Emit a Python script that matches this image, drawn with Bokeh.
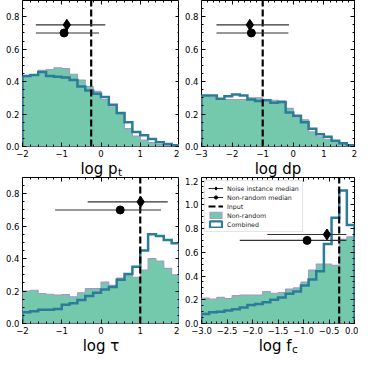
import numpy as np
from bokeh.plotting import figure
from bokeh.models import (FixedTicker, LinearAxis, Range1d, Legend, LegendItem,
                          CustomLabelingPolicy)
from bokeh.layouts import column, row
from bokeh.embed import file_html
from bokeh.resources import INLINE
from bokeh.core.properties import value

FONT = "DejaVu Sans"
TEAL = "#74c9ad"
PURPLE = "#a596c8"
BLUE = "#2b7c99"

# ---------------- data ----------------
# log p_t : 20 bins from -2 to 2
pt_range = (-2.0, 2.0)
pt_nonrandom = [0.43, 0.44, 0.47, 0.475, 0.485, 0.48, 0.445, 0.41, 0.37, 0.34,
                0.29, 0.245, 0.20, 0.11, 0.065, 0.04, 0.025, 0.012, 0.005, 0.002]
pt_combined = [0.435, 0.44, 0.46, 0.435, 0.43, 0.425, 0.41, 0.37, 0.345, 0.325,
               0.305, 0.257, 0.207, 0.15, 0.09, 0.07, 0.046, 0.026, 0.015, 0.007]
pt_input = -0.25
pt_noise = (-0.87, -1.66, 0.11)       # median, low, high
pt_nonrand = (-0.94, -1.66, -0.05)

# log dp : 20 bins from -3 to 2
dp_range = (-3.0, 2.0)
dp_nonrandom = [0.315, 0.305, 0.29, 0.29, 0.29, 0.29, 0.30, 0.30, 0.29, 0.285,
                0.28, 0.235, 0.18, 0.165, 0.09, 0.06, 0.045, 0.03, 0.015, 0.005]
dp_combined = [0.315, 0.315, 0.295, 0.31, 0.32, 0.315, 0.29, 0.28, 0.285, 0.27,
               0.275, 0.21, 0.19, 0.15, 0.11, 0.075, 0.06, 0.035, 0.02, 0.008]
dp_input = -1.0
dp_noise = (-1.42, -2.51, -0.14)
dp_nonrand = (-1.37, -2.51, -0.16)

# log tau : 20 bins from -2 to 2
tau_range = (-2.0, 2.0)
tau_nonrandom = [0.20, 0.205, 0.185, 0.18, 0.175, 0.178, 0.165, 0.19, 0.215, 0.215,
                 0.255, 0.235, 0.28, 0.30, 0.285, 0.33, 0.40, 0.385, 0.34, 0.30]
tau_combined = [0.07, 0.075, 0.085, 0.085, 0.09, 0.115, 0.125, 0.145, 0.17, 0.19,
                0.21, 0.225, 0.27, 0.305, 0.35, 0.45, 0.55, 0.54, 0.515, 0.495]
tau_input = 1.0
tau_noise = (1.01, -0.34, 1.70)
tau_nonrand = (0.49, -1.17, 1.53)

# log f_c : 20 bins from -3 to 0
fc_range = (-3.0, 0.0)
fc_nonrandom = [0.215, 0.205, 0.22, 0.21, 0.235, 0.24, 0.24, 0.24, 0.27, 0.255,
                0.26, 0.29, 0.30, 0.35, 0.45, 0.50, 0.50, 0.49, 0.71, 0.73]
fc_combined = [0.08, 0.095, 0.10, 0.11, 0.12, 0.135, 0.155, 0.165, 0.18, 0.20,
               0.22, 0.25, 0.27, 0.32, 0.37, 0.44, 0.67, 0.89, 1.12, 0.83]
fc_input = -0.30
fc_noise = (-0.54, -1.71, -0.16)
fc_nonrand = (-0.93, -2.25, -0.16)

median_y = (0.75, 0.70)   # noise instance median row, non-random median row

xticks_pt = [-2, -1, 0, 1, 2]
xlabels_pt = ["\u22122", "\u22121", "0", "1", "2"]
xticks_dp = [-3, -2, -1, 0, 1, 2]
xlabels_dp = ["\u22123", "\u22122", "\u22121", "0", "1", "2"]
xticks_fc = [-3.0, -2.5, -2.0, -1.5, -1.0, -0.5, 0.0]
xlabels_fc = ["\u22123.0", "\u22122.5", "\u22122.0", "\u22121.5", "\u22121.0", "\u22120.5", "0.0"]
yticks_a = [0.0, 0.2, 0.4, 0.6, 0.8]
ylabels_a = ["0.0", "0.2", "0.4", "0.6", "0.8"]
yticks_b = [0.0, 0.2, 0.4, 0.6, 0.8, 1.0, 1.2]
ylabels_b = ["0.0", "0.2", "0.4", "0.6", "0.8", "1.0", "1.2"]

W = 179
BL = 22
PANEL_H = 159
LABEL_H = 18


def minor_of(ticks, n, lo, hi):
    ticks = list(ticks)
    step = (ticks[1] - ticks[0]) / n
    vals = np.arange(ticks[0] - 10 * step * n, ticks[-1] + 10 * step * n + 1e-9, step)
    return [float(v) for v in vals if lo - 1e-9 <= v <= hi + 1e-9]


def style_axis(ax, ticks, labels, minor, show_labels):
    ax.ticker = FixedTicker(ticks=list(ticks), minor_ticks=minor)
    ax.major_tick_in = 4
    ax.major_tick_out = 0
    ax.minor_tick_in = 2
    ax.minor_tick_out = 0
    ax.major_tick_line_color = "black"
    ax.minor_tick_line_color = "black"
    ax.axis_line_color = None
    ax.major_label_text_font = FONT
    ax.major_label_text_color = "black"
    if show_labels:
        ax.major_label_overrides = {float(t): l for t, l in zip(ticks, labels)}
        ax.major_label_text_font_size = "8.5px"
        ax.major_label_standoff = 3
    else:
        ax.major_label_policy = CustomLabelingPolicy(
            code="for (const i of indices) { indices.unset(i) }\nreturn indices")
        ax.major_label_text_font_size = "0px"
        ax.major_label_standoff = 0


def panel(xr, nr, cb, inp, noise, nonrand, xt, xl, yt, yl, ymax,
          lab_main, lab_sub, main_w, sub_w, br, legend=False):
    n = len(nr)
    edges = np.linspace(xr[0], xr[1], n + 1)
    xs = np.repeat(edges, 2)
    ys_nr = np.concatenate([[0.0], np.repeat(nr, 2), [0.0]])
    ys_cb = np.concatenate([[0.0], np.repeat(cb, 2), [0.0]])

    p = figure(width=W, height=PANEL_H, x_range=Range1d(*xr), y_range=Range1d(0, ymax),
               output_backend="svg", toolbar_location=None,
               min_border_left=BL, min_border_right=br, min_border_top=0,
               min_border_bottom=0)
    p.grid.visible = False
    p.outline_line_color = "black"
    p.outline_line_width = 1

    r_fill = p.patch(xs, ys_nr, fill_color=TEAL, line_color=PURPLE, line_width=1.1)
    p.line(xs, ys_cb, line_color=BLUE, line_width=2.5, line_join="miter")
    r_inp = p.line([inp, inp], [0, ymax], line_color="black", line_width=2.2,
                   line_dash="7 3")

    seg_n = p.segment(x0=[noise[1]], y0=[median_y[0]], x1=[noise[2]], y1=[median_y[0]],
                      line_color="#333333", line_width=1.1)
    sc_n = p.scatter([noise[0]], [median_y[0]], marker="diamond", size=11,
                     color="black")
    seg_c = p.segment(x0=[nonrand[1]], y0=[median_y[1]], x1=[nonrand[2]], y1=[median_y[1]],
                      line_color="#333333", line_width=1.1)
    sc_c = p.scatter([nonrand[0]], [median_y[1]], marker="circle", size=8,
                     color="black")

    xminor = minor_of(xt, 5, *xr)
    yminor = minor_of(yt, 4, 0, ymax)
    style_axis(p.xaxis[0], xt, xl, xminor, True)
    style_axis(p.yaxis[0], yt, yl, yminor, True)
    top = LinearAxis()
    right = LinearAxis()
    style_axis(top, xt, xl, xminor, False)
    style_axis(right, yt, yl, yminor, False)
    p.add_layout(top, "above")
    p.add_layout(right, "right")

    if legend:
        px_cb = p.patch(xs, ys_cb, fill_color="white", line_color=BLUE, line_width=2.2,
                        visible=False)
        lg = Legend(items=[
            LegendItem(label="Noise instance median", renderers=[seg_n, sc_n]),
            LegendItem(label="Non-random median", renderers=[seg_c, sc_c]),
            LegendItem(label="Input", renderers=[r_inp]),
            LegendItem(label="Non-random", renderers=[r_fill]),
            LegendItem(label="Combined", renderers=[px_cb]),
        ], location="top_left")
        lg.label_text_font = FONT
        lg.label_text_font_size = "6.3px"
        lg.label_text_color = "#222222"
        lg.glyph_width = 15
        lg.glyph_height = 8
        lg.label_height = 8
        lg.spacing = 1
        lg.padding = 3
        lg.margin = 3
        lg.label_standoff = 4
        lg.border_line_color = "#cccccc"
        lg.border_line_width = 1
        lg.background_fill_alpha = 0.8
        lg.inactive_fill_alpha = 0
        p.add_layout(lg)

    # x-axis title (with subscript) in a strip below the panel
    t = figure(width=W, height=LABEL_H, x_range=p.x_range, y_range=Range1d(0, LABEL_H),
               output_backend="svg", toolbar_location=None,
               x_axis_type=None, y_axis_type=None,
               min_border_left=BL, min_border_right=br, min_border_top=0,
               min_border_bottom=0)
    t.grid.visible = False
    t.outline_line_color = None
    cx = (xr[0] + xr[1]) / 2
    base = LABEL_H - 9
    if lab_sub:
        a = (main_w - sub_w) / 2
        t.text(x=[cx], y=[base], text=[lab_main], x_offset=a,
               text_align="right", text_baseline="alphabetic",
               text_font=value(FONT), text_font_size=value("15px"), text_color="black")
        t.text(x=[cx], y=[base - 3.5], text=[lab_sub], x_offset=a + 0.5,
               text_align="left", text_baseline="alphabetic",
               text_font=value(FONT), text_font_size=value("10.5px"), text_color="black")
    else:
        t.text(x=[cx], y=[base], text=[lab_main],
               text_align="center", text_baseline="alphabetic",
               text_font=value(FONT), text_font_size=value("15px"), text_color="black")
    return column(p, t, spacing=0)


p1 = panel(pt_range, pt_nonrandom, pt_combined, pt_input, pt_noise, pt_nonrand,
           xticks_pt, xlabels_pt, yticks_a, ylabels_a, 0.9,
           "log p", "t", 37.2, 4.1, 0)
p2 = panel(dp_range, dp_nonrandom, dp_combined, dp_input, dp_noise, dp_nonrand,
           xticks_dp, xlabels_dp, yticks_a, ylabels_a, 0.9,
           "log dp", None, 0, 0, 4)
p3 = panel(tau_range, tau_nonrandom, tau_combined, tau_input, tau_noise, tau_nonrand,
           xticks_pt, xlabels_pt, yticks_a, ylabels_a, 0.9,
           "log \u03c4", None, 0, 0, 0)
p4 = panel(fc_range, fc_nonrandom, fc_combined, fc_input, fc_noise, fc_nonrand,
           xticks_fc, xlabels_fc, yticks_b, ylabels_b, 1.23,
           "log f", "c", 32.9, 5.8, 4, legend=True)

layout = column(row(p1, p2, spacing=0), row(p3, p4, spacing=0), spacing=0)
open("out.html", "w").write(file_html(layout, INLINE))
